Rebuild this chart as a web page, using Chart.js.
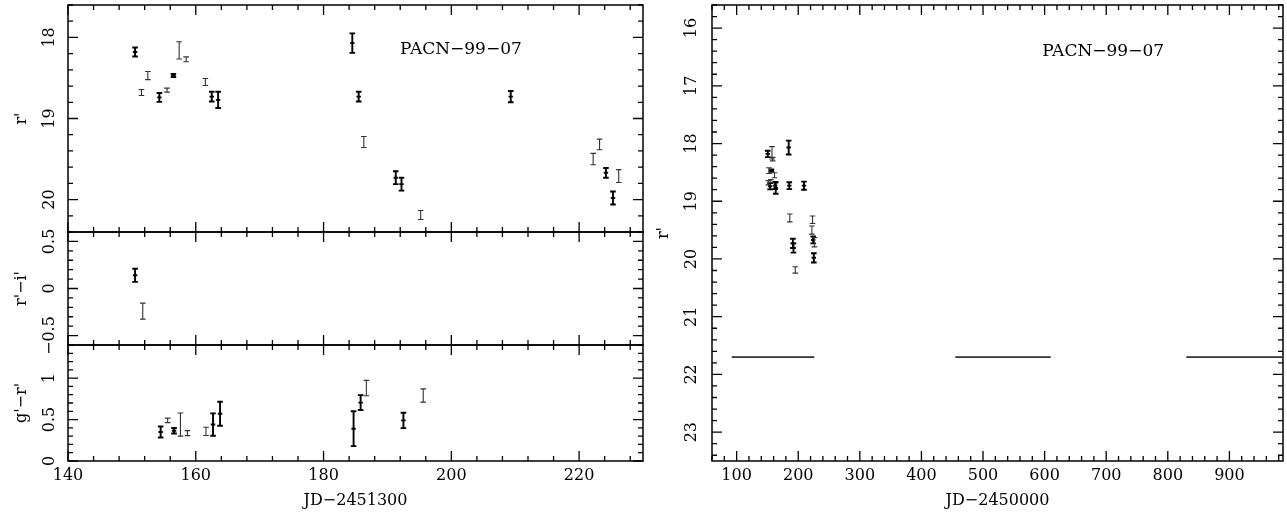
<!DOCTYPE html>
<html>
<head>
<meta charset="utf-8">
<script src="https://cdn.jsdelivr.net/npm/chart.js@4.4.1/dist/chart.umd.min.js"></script>
<style>
body { margin: 0; background: #fff; }
#page { position: relative; width: 1287px; height: 514px; overflow: hidden; }
canvas { position: absolute; }
</style>
</head>
<body>
<div id="page">
  <canvas id="mag" width="650" height="240" style="left:0px;top:0px"></canvas>
  <canvas id="ri" width="650" height="140" style="left:0px;top:224px"></canvas>
  <canvas id="gr" width="650" height="177" style="left:0px;top:337px"></canvas>
  <canvas id="season" width="637" height="514" style="left:650px;top:0px"></canvas>
</div>
<script>
// r' light curve, two groups of observations (heavy / light error bars)
const jdHeavy = [150.5, 154.3, 156.5, 162.5, 163.5, 184.5, 185.5, 191.3, 192.2, 209.3, 224.2, 225.3];
const magHeavy = [18.18, 18.74, 18.47, 18.73, 18.77, 18.07, 18.73, 19.73, 19.81, 18.73, 19.67, 19.98];
const magErrHeavy = [0.055, 0.055, 0.02, 0.06, 0.1, 0.12, 0.06, 0.08, 0.08, 0.07, 0.06, 0.08];

const jdLight = [151.5, 152.5, 155.5, 157.4, 158.5, 161.5, 186.3, 195.2, 222.2, 223.2, 226.2];
const magLight = [18.68, 18.47, 18.65, 18.16, 18.27, 18.55, 19.29, 20.19, 19.5, 19.32, 19.71];
const magErrLight = [0.037, 0.05, 0.025, 0.107, 0.03, 0.043, 0.068, 0.055, 0.07, 0.065, 0.08];

// r'-i' colour
const jdRiHeavy = [150.5];
const riHeavy = [0.14];
const riErrHeavy = [0.07];
const jdRiLight = [151.7];
const riLight = [-0.24];
const riErrLight = [0.085];

// g'-r' colour
const jdGrHeavy = [154.5, 156.6, 162.7, 163.8, 184.7, 185.8, 192.5];
const grHeavy = [0.35, 0.365, 0.44, 0.57, 0.39, 0.705, 0.49];
const grErrHeavy = [0.066, 0.033, 0.135, 0.145, 0.21, 0.09, 0.093];
const jdGrLight = [155.6, 157.6, 158.7, 161.6, 186.7, 195.6];
const grLight = [0.49, 0.44, 0.336, 0.357, 0.88, 0.79];
const grErrLight = [0.027, 0.14, 0.03, 0.05, 0.093, 0.08];

// limiting magnitude of the seasons
const limitStart = [92, 455, 830];
const limitEnd = [226, 610, 986];
const limitMag = 21.7;

// tick labels
const jdTicksLeft = [140, 160, 180, 200, 220];
const jdTicksRight = [100, 200, 300, 400, 500, 600, 700, 800, 900];
const magTicksLeft = [18, 19, 20];
const magTicksRight = [16, 17, 18, 19, 20, 21, 22, 23];
const riTicks = [-0.5, 0, 0.5];
const grTicks = [0, 0.5, 1];

const FONT = "'DejaVu Serif', 'Liberation Serif', serif";
Chart.defaults.font.family = FONT;
Chart.defaults.font.size = 16;
Chart.defaults.color = "#000";

function pts(xs, ys) {
  return xs.map(function (x, i) { return { x: x, y: ys[i] }; });
}

function errSet(xs, ys, errs, heavy) {
  return {
    data: pts(xs, ys),
    errors: errs,
    heavy: heavy,
    pointRadius: 0,
    pointHoverRadius: 0,
    showLine: false,
  };
}

function fmt(v) {
  return v < 0 ? "\u2212" + Math.abs(v) : String(v);
}

// error bars drawn through the y scale
const errorBars = {
  id: "errorBars",
  afterDatasetsDraw(chart) {
    const ctx = chart.ctx;
    const a = chart.chartArea;
    const ys = chart.scales.y;
    ctx.save();
    ctx.beginPath();
    ctx.rect(a.left, a.top, a.right - a.left, a.bottom - a.top);
    ctx.clip();
    chart.data.datasets.forEach(function (ds, i) {
      if (!ds.errors) return;
      ctx.strokeStyle = ds.heavy ? "#000" : "#333";
      ctx.lineWidth = ds.heavy ? 1.9 : 1.1;
      chart.getDatasetMeta(i).data.forEach(function (el, j) {
        const v = ds.data[j].y;
        const e = ds.errors[j];
        const x = el.x;
        const y1 = ys.getPixelForValue(v - e);
        const y2 = ys.getPixelForValue(v + e);
        const yc = ys.getPixelForValue(v);
        ctx.beginPath();
        ctx.moveTo(x, y1); ctx.lineTo(x, y2);
        ctx.moveTo(x - 2.8, y1); ctx.lineTo(x + 2.8, y1);
        ctx.moveTo(x - 2.8, y2); ctx.lineTo(x + 2.8, y2);
        if (ds.heavy) { ctx.moveTo(x - 2.2, yc); ctx.lineTo(x + 2.2, yc); }
        ctx.stroke();
      });
    });
    ctx.restore();
  },
};

// box, inside ticks on all sides, rotated y labels, object name
const frame = {
  id: "frame",
  afterDraw(chart, args, o) {
    const ctx = chart.ctx;
    const a = chart.chartArea;
    const xs = chart.scales.x;
    const ys = chart.scales.y;
    ctx.save();
    ctx.strokeStyle = "#000";
    ctx.lineWidth = 1.5;
    ctx.strokeRect(a.left, a.top, a.right - a.left, a.bottom - a.top);

    function isMajor(v, list) {
      return list.some(function (m) { return Math.abs(m - v) < 1e-6; });
    }

    ctx.beginPath();
    for (let k = Math.ceil(xs.min / o.xMinor - 1e-9); k * o.xMinor <= xs.max + 1e-9; k++) {
      const v = k * o.xMinor;
      const p = xs.getPixelForValue(v);
      const len = isMajor(v, o.xMajor) ? 10 : 5;
      ctx.moveTo(p, a.bottom); ctx.lineTo(p, a.bottom - len);
      ctx.moveTo(p, a.top); ctx.lineTo(p, a.top + len);
    }
    for (let k = Math.ceil(ys.min / o.yMinor - 1e-9); k * o.yMinor <= ys.max + 1e-9; k++) {
      const v = k * o.yMinor;
      const p = ys.getPixelForValue(v);
      const len = isMajor(v, o.yMajor) ? 10 : 5;
      ctx.moveTo(a.left, p); ctx.lineTo(a.left + len, p);
      ctx.moveTo(a.right, p); ctx.lineTo(a.right - len, p);
    }
    ctx.lineWidth = 1.3;
    ctx.stroke();

    ctx.fillStyle = "#000";
    ctx.font = "16px " + FONT;
    ctx.textAlign = "center";
    ctx.textBaseline = "middle";
    o.yMajor.forEach(function (v) {
      const p = ys.getPixelForValue(v);
      ctx.save();
      ctx.translate(a.left - o.yLabelGap, p);
      ctx.rotate(-Math.PI / 2);
      ctx.fillText(fmt(v), 0, 0);
      ctx.restore();
    });

    if (o.tag) {
      ctx.font = "17px " + FONT;
      ctx.fillText(o.tag.text, xs.getPixelForValue(o.tag.x), ys.getPixelForValue(o.tag.y));
    }
    ctx.restore();
  },
};

function xAxis(min, max, ticks, title, shown) {
  return {
    type: "linear",
    min: min,
    max: max,
    display: shown,
    grid: { display: false },
    border: { display: false },
    afterBuildTicks: function (s) { s.ticks = ticks.map(function (v) { return { value: v }; }); },
    afterFit: function (s) { s.height = shown ? 53 : 0; },
    ticks: { padding: -3, font: { size: 16 } },
    title: { display: !!title, text: title, font: { size: 16 }, padding: { top: 0, bottom: 4 } },
  };
}

function yAxis(min, max, ticks, title, reverse, width, titlePad) {
  return {
    type: "linear",
    min: min,
    max: max,
    reverse: reverse,
    grid: { display: false },
    border: { display: false },
    afterBuildTicks: function (s) { s.ticks = ticks.map(function (v) { return { value: v }; }); },
    afterFit: function (s) { s.width = width; },
    ticks: { display: false },
    title: { display: true, text: title, font: { size: 16 }, padding: { top: titlePad, bottom: 0 } },
  };
}

function baseOptions(x, y, framing, pad) {
  return {
    responsive: false,
    animation: false,
    devicePixelRatio: 1,
    layout: { padding: pad },
    scales: { x: x, y: y },
    plugins: { legend: { display: false }, tooltip: { enabled: false }, frame: framing },
  };
}

new Chart("mag", {
  type: "scatter",
  data: {
    datasets: [
      errSet(jdHeavy, magHeavy, magErrHeavy, true),
      errSet(jdLight, magLight, magErrLight, false),
    ],
  },
  options: baseOptions(
    xAxis(140, 230, jdTicksLeft, "", false),
    yAxis(17.6, 20.4, magTicksLeft, "r'", true, 68, 12),
    { xMinor: 4, xMajor: jdTicksLeft, yMinor: 0.2, yMajor: magTicksLeft, yLabelGap: 18,
      tag: { text: "PACN\u221299\u221207", x: 201.5, y: 18.15 } },
    { top: 5, right: 7, bottom: 8, left: 0 }
  ),
  plugins: [errorBars, frame],
});

new Chart("ri", {
  type: "scatter",
  data: {
    datasets: [
      errSet(jdRiHeavy, riHeavy, riErrHeavy, true),
      errSet(jdRiLight, riLight, riErrLight, false),
    ],
  },
  options: baseOptions(
    xAxis(140, 230, jdTicksLeft, "", false),
    yAxis(-0.6, 0.6, riTicks, "r'\u2212i'", false, 68, 12),
    { xMinor: 4, xMajor: jdTicksLeft, yMinor: 0.1, yMajor: riTicks, yLabelGap: 18 },
    { top: 8, right: 7, bottom: 19, left: 0 }
  ),
  plugins: [errorBars, frame],
});

new Chart("gr", {
  type: "scatter",
  data: {
    datasets: [
      errSet(jdGrHeavy, grHeavy, grErrHeavy, true),
      errSet(jdGrLight, grLight, grErrLight, false),
    ],
  },
  options: baseOptions(
    xAxis(140, 230, jdTicksLeft, "JD\u22122451300", true),
    yAxis(0, 1.4, grTicks, "g'\u2212r'", false, 68, 12),
    { xMinor: 4, xMajor: jdTicksLeft, yMinor: 0.1, yMajor: grTicks, yLabelGap: 18 },
    { top: 8, right: 7, bottom: 0, left: 0 }
  ),
  plugins: [errorBars, frame],
});

const limitLine = [];
limitStart.forEach(function (s, i) {
  limitLine.push({ x: s, y: limitMag });
  limitLine.push({ x: limitEnd[i], y: limitMag });
  limitLine.push({ x: limitEnd[i] + 1, y: null });
});

new Chart("season", {
  type: "scatter",
  data: {
    datasets: [
      errSet(jdHeavy, magHeavy, magErrHeavy, true),
      errSet(jdLight, magLight, magErrLight, false),
      {
        data: limitLine,
        showLine: true,
        spanGaps: false,
        borderColor: "#333",
        borderWidth: 1.6,
        pointRadius: 0,
        pointHoverRadius: 0,
      },
    ],
  },
  options: baseOptions(
    xAxis(60, 987, jdTicksRight, "JD\u22122450000", true),
    yAxis(15.6, 23.5, magTicksRight, "r'", true, 62, 4),
    { xMinor: 20, xMajor: jdTicksRight, yMinor: 0.2, yMajor: magTicksRight, yLabelGap: 20,
      tag: { text: "PACN\u221299\u221207", x: 695, y: 16.4 } },
    { top: 5, right: 4, bottom: 0, left: 0 }
  ),
  plugins: [errorBars, frame],
});
</script>
</body>
</html>
